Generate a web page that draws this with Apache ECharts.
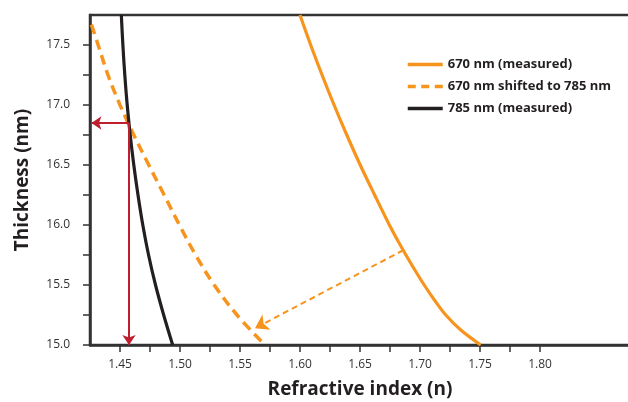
<!DOCTYPE html>
<html>
<head>
<meta charset="utf-8">
<script src="https://cdn.jsdelivr.net/npm/echarts@6/dist/echarts.min.js"></script>
<style>
  html, body { margin: 0; padding: 0; background: #fff; }
  #chart { width: 628px; height: 402px; }
</style>
</head>
<body>
<div id="chart"></div>
<script>
// 670 nm measured
const n670 = [1.6000, 1.6089, 1.6184, 1.6284, 1.6390, 1.6502, 1.6622, 1.6745, 1.6812, 1.6883, 1.6957, 1.7035, 1.7120, 1.7215, 1.7340, 1.7506]
const t670 = [17.75, 17.5, 17.25, 17.0, 16.75, 16.5, 16.25, 16.0, 15.875, 15.75, 15.625, 15.5, 15.375, 15.25, 15.125, 15.0]

// 670 nm shifted to 785 nm
const nShift = [1.4262, 1.4318, 1.4400, 1.4500, 1.4615, 1.4740, 1.4868, 1.4995, 1.5130, 1.5285, 1.5475, 1.5708]
const tShift = [17.67, 17.5, 17.25, 17.0, 16.75, 16.5, 16.25, 16.0, 15.75, 15.5, 15.25, 15.0]

// 785 nm measured
const n785 = [1.4511, 1.4524, 1.4540, 1.4560, 1.4585, 1.4615, 1.4650, 1.4690, 1.4738, 1.4796, 1.4864, 1.4939]
const t785 = [17.75, 17.5, 17.25, 17.0, 16.75, 16.5, 16.25, 16.0, 15.75, 15.5, 15.25, 15.0]

// arrows: [start, end]
const readThickness = [[1.4575, 16.85], [1.4262, 16.85]]
const readIndex = [[1.4575, 16.85], [1.4575, 15.0]]
const shiftArrow = [[1.6861, 15.79], [1.5625, 15.14]]

const xTicks = [1.45, 1.475, 1.5, 1.525, 1.55, 1.575, 1.6, 1.625, 1.65, 1.675, 1.7, 1.725, 1.75, 1.775, 1.8]
const xLabels = [1.45, 1.5, 1.55, 1.6, 1.65, 1.7, 1.75, 1.8]
const yTicks = [15, 15.25, 15.5, 15.75, 16, 16.25, 16.5, 16.75, 17, 17.25, 17.5]
const yLabels = [15, 15.5, 16, 16.5, 17, 17.5]

const orange = '#f7941d'
const ink = '#231f20'
const red = '#be1e2d'
const axisColor = '#333333'
const font = '"Open Sans", sans-serif'

const pairs = (xs, ys) => xs.map((x, i) => [x, ys[i]])

const chart = echarts.init(document.getElementById('chart'))

chart.setOption({
  animation: false,
  backgroundColor: '#fff',
  grid: {
    left: 90, top: 15, width: 540, bottom: 57,
    outerBoundsMode: 'none',
    containLabel: false,
    show: true, borderColor: axisColor, borderWidth: 2.5
  },
  legend: {
    orient: 'vertical',
    left: 401,
    top: 53,
    itemWidth: 35,
    itemHeight: 14,
    itemGap: 9,
    itemStyle: { opacity: 0 },
    lineStyle: { width: 3.5 },
    textStyle: { color: ink, fontSize: 13, fontWeight: 'bold', fontFamily: font },
    data: [
      { name: '670 nm (measured)' },
      { name: '670 nm shifted to 785 nm', lineStyle: { width: 3.5, type: [8, 5.5] } },
      { name: '785 nm (measured)' }
    ]
  },
  xAxis: {
    type: 'value',
    min: 1.425,
    max: 1.875,
    name: 'Refractive index (n)',
    nameLocation: 'middle',
    nameGap: 35,
    nameTextStyle: { color: ink, fontSize: 19, fontWeight: 'bold', fontFamily: font },
    axisLine: { lineStyle: { color: axisColor, width: 2.5 } },
    axisTick: { show: true, length: 7, customValues: xTicks, lineStyle: { color: axisColor, width: 1.5 } },
    axisLabel: {
      customValues: xLabels, margin: 14,
      color: '#333', fontSize: 12, fontFamily: font,
      formatter: v => v.toFixed(2)
    },
    splitLine: { show: false }
  },
  yAxis: {
    type: 'value',
    min: 15,
    max: 17.75,
    name: 'Thickness (nm)',
    nameLocation: 'middle',
    nameGap: 58,
    nameTextStyle: { color: ink, fontSize: 19, fontWeight: 'bold', fontFamily: font },
    axisLine: { lineStyle: { color: axisColor, width: 2.5 } },
    axisTick: { show: true, length: 7, customValues: yTicks, lineStyle: { color: axisColor, width: 1.5 } },
    axisLabel: {
      customValues: yLabels, margin: 20,
      color: '#333', fontSize: 12, fontFamily: font,
      formatter: v => v.toFixed(1)
    },
    splitLine: { show: false }
  },
  series: [
    {
      name: '670 nm (measured)',
      type: 'line',
      data: pairs(n670, t670),
      smooth: 0.35,
      showSymbol: false,
      symbol: 'none',
      color: orange,
      lineStyle: { color: orange, width: 3.2 }
    },
    {
      name: '670 nm shifted to 785 nm',
      type: 'line',
      data: pairs(nShift, tShift),
      smooth: 0.35,
      showSymbol: false,
      symbol: 'none',
      color: orange,
      lineStyle: { color: orange, width: 3.5, type: [10, 6] }
    },
    {
      name: '785 nm (measured)',
      type: 'line',
      data: pairs(n785, t785),
      smooth: 0.35,
      showSymbol: false,
      symbol: 'none',
      color: ink,
      lineStyle: { color: ink, width: 3.2 }
    },
    {
      type: 'lines',
      coordinateSystem: 'cartesian2d',
      symbol: ['none', 'arrow'],
      symbolSize: 10,
      lineStyle: { color: red, width: 2, opacity: 1 },
      data: [{ coords: readThickness }, { coords: readIndex }],
      z: 5
    },
    {
      type: 'lines',
      coordinateSystem: 'cartesian2d',
      symbol: ['none', 'arrow'],
      symbolSize: 13,
      lineStyle: { color: orange, width: 2, type: [6, 4], opacity: 1 },
      data: [{ coords: shiftArrow }],
      z: 5
    }
  ]
})
</script>
</body>
</html>
